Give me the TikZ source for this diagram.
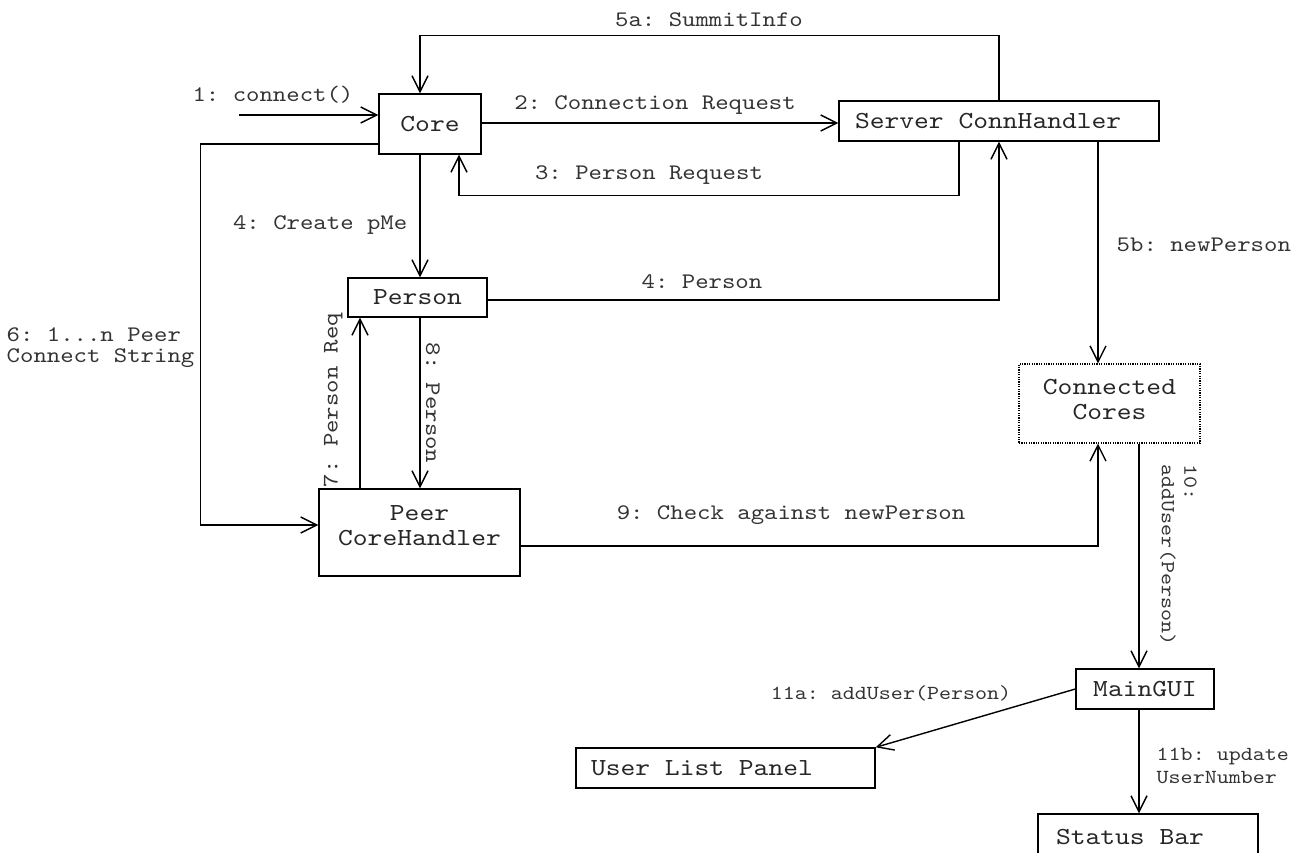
\documentclass[tikz,border=0pt]{standalone}
\usepackage{fontspec}
\usetikzlibrary{arrows.meta}
\newfontfamily\dgmono[Extension=.otf,FakeStretch=1.15]{lmmono10-regular}
\newcommand\dgbox{\dgmono\fontsize{24.5}{25.5}\selectfont\frenchspacing\spaceskip=14.8pt\relax}
\newcommand\dglab{\dgmono\fontsize{22.2}{21.5}\selectfont\frenchspacing\spaceskip=13.4pt\relax}
\newcommand\dgsml{\dgmono\fontsize{19.9}{22.5}\selectfont\frenchspacing\spaceskip=12pt\relax}
\begin{document}
\begin{tikzpicture}[x=1pt,y=-1pt,line width=1.4pt,
  obj/.style={draw, rectangle, inner sep=0pt, font=\dgbox, text=black!85},
  lobj/.style={obj, align=left, execute at begin node=\dgbox},
  lab/.style={font=\dglab, text=black!80, inner sep=1pt},
  sml/.style={font=\dgsml, text=black!80, inner sep=1pt},
  arr/.style={-{Straight Barb[length=16pt,width=16pt]}}]
\useasboundingbox (0,0) rectangle (1300,852);

% objects
\node[obj, minimum width=102pt, minimum height=60pt] (core) at (430,124) {Core};
\node[lobj, minimum height=40pt, text width=288pt, inner xsep=16pt] (server) at (999,121) {Server ConnHandler};
\node[obj, minimum width=139pt, minimum height=39pt] (person) at (417.5,297.5) {Person};
\node[obj, minimum width=201pt, minimum height=87pt, align=center, text depth=14pt] (peer) at (419.5,532.5) {Peer\\CoreHandler};
\node[obj, line width=1.2pt, dash pattern=on 1.2pt off 1.2pt, minimum width=181pt, minimum height=79pt, align=center, text depth=8pt] (cc) at (1109.5,403.5) {Connected\\Cores};
\node[obj, minimum width=138pt, minimum height=40pt] (gui) at (1145,689) {MainGUI};
\node[lobj, minimum height=40pt, text width=269pt, inner xsep=15pt] (ulp) at (725.5,768) {User List Panel};
\node[lobj, minimum height=46pt, text width=184pt, inner xsep=18pt] (status) at (1148,837) {Status Bar};

% connectors
\coordinate (start) at (239,115);
\draw[arr] (start) -- (start -| core.west);
\draw[arr] (server.north) -- ++(0,-65) -| ([xshift=-10pt]core.north);
\draw[arr] ([yshift=1pt]core.east) -- ([yshift=1pt]core.east -| server.west);
\draw[arr] ([xshift=-40pt]server.south) -- ++(0,54) -| ([xshift=29pt]core.south);
\draw[arr] ([yshift=-20pt]core.west) -- ++(-178,0) |- ([yshift=7.5pt]peer.west);
\draw[arr] ([xshift=-10pt]core.south) -- ([xshift=-10pt]core.south |- person.north);
\draw[arr] ([yshift=-2.5pt]person.east) -| (server.south);
\draw[arr] ([xshift=-59.5pt]peer.north) -- ([xshift=-59.5pt]peer.north |- person.south);
\draw[arr] ([xshift=2.5pt]person.south) -- ([xshift=2.5pt]person.south |- peer.north);
\draw[arr] ([yshift=-13.5pt]peer.east) -| ([xshift=-11.5pt]cc.south);
\draw[arr] ([xshift=99pt]server.south) -- ([xshift=99pt]server.south |- cc.north);
\draw[arr] ([xshift=29.5pt]cc.south) -- ([xshift=29.5pt]cc.south |- gui.north);
\draw[arr] (gui.west) -- (ulp.north east);
\draw[arr] ([xshift=-6pt]gui.south) -- ([xshift=-6pt]gui.south |- status.north);

% labels
\node[lab] (l1) at (273,95) {1: connect()};
\node[lab] (l5a) at (709,20) {5a: SummitInfo};
\node[lab] (l2) at (655,105) {2: Connection Request};
\node[lab] (l3) at (649,175) {3: Person Request};
\node[lab, anchor=east] (l4c) at (409,225) {4: Create pMe};
\node[lab] (l4p) at (702,282) {4: Person};
\node[lab, anchor=west, align=left] (l6) at (5,347.5) {6: 1...n Peer\\Connect String};
\node[lab, rotate=90] (l7) at (333,400) {7: Person Req};
\node[lab, rotate=-90] (l8) at (433,403) {8: Person};
\node[lab] (l9) at (791,515) {9: Check against newPerson};
\node[lab, anchor=west] (l5b) at (1115,245) {5b: newPerson};
\node[sml, rotate=-90, align=left] (l10) at (1178.5,555) {10:\\addUser(Person)};
\node[sml] (l11a) at (891,693) {11a: addUser(Person)};
\node[sml, anchor=west, align=left] (l11b) at (1155,766) {11b: update\\UserNumber};
\end{tikzpicture}
\end{document}
